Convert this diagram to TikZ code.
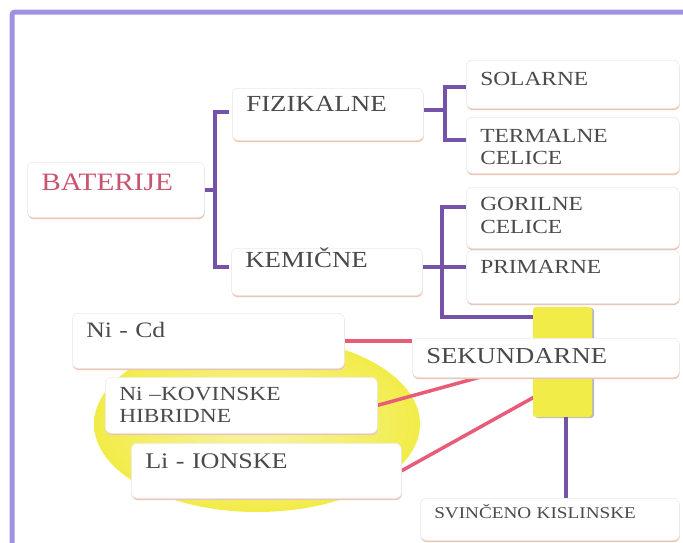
\documentclass[tikz,border=0pt]{standalone}
\usepackage{fontspec}
\setmainfont{Liberation Serif}[FakeStretch=1.17]
\usetikzlibrary{shadows,calc}
\definecolor{frameC}{HTML}{A092E2}
\definecolor{brC}{HTML}{7453A8}
\definecolor{redC}{HTML}{E85C7A}
\definecolor{yelC}{HTML}{F2EC48}
\definecolor{yelL}{HTML}{F8F4A8}
\definecolor{txtC}{HTML}{4A4A4A}
\definecolor{batC}{HTML}{C9546E}
\definecolor{shC}{HTML}{EBC6B4}
\pgfdeclarelayer{bg}
\pgfsetlayers{bg,main}
\tikzset{
  box/.style={rectangle, rounded corners=6pt, fill=white, draw=black!8, line width=0.6pt,
    anchor=north west, inner xsep=14pt, inner ysep=0pt, align=left, text=txtC,
    drop shadow={shadow xshift=0.4pt, shadow yshift=-1.8pt, fill=shC, opacity=1}},
  brk/.style={draw=brC, line width=4.5pt},
  redl/.style={draw=redC, line width=3.5pt},
  framel/.style={draw=frameC, line width=5pt, rounded corners=3pt},
  barbox/.style={rectangle, fill=yelC, rounded corners=3pt, minimum width=59pt, minimum height=110pt,
    inner sep=0pt, drop shadow={shadow xshift=2pt, shadow yshift=-1pt, fill=black!45, opacity=0.6}},
}
% name, x1, y1, x2, y2, baseline, font, text
\newcommand\mybox[8]{%
  \pgfmathsetmacro\bw{#4-#2-28}%
  \pgfmathsetmacro\bh{#6-#3}%
  \pgfmathsetmacro\bd{#5-#6}%
  \node[box, font=#7, text width=\bw pt, text height=\bh pt, text depth=\bd pt] (#1) at (#2,#3) {#8};}
\begin{document}
\begin{tikzpicture}[x=1pt,y=-1pt]
\useasboundingbox (0,0) rectangle (683,542);

% boxes
\mybox{bat}{27}{162}{204}{217}{190}{\fontsize{25}{27}\selectfont}{\textcolor{batC}{BATERIJE}}
\mybox{fiz}{232}{88}{423}{140}{111}{\fontsize{23}{25}\selectfont}{FIZIKALNE}
\mybox{kem}{231}{248}{422}{295}{267}{\fontsize{23}{25}\selectfont}{KEMIČNE}
\mybox{sol}{466}{60}{679}{108}{85}{\fontsize{20}{22.5}\selectfont}{SOLARNE}
\mybox{ter}{466}{117}{679}{173}{142}{\fontsize{20}{22.5}\selectfont}{TERMALNE\\CELICE}
\mybox{gor}{466}{187}{679}{248}{210}{\fontsize{20}{23}\selectfont}{GORILNE\\CELICE}
\mybox{pri}{466}{250}{679}{303}{273}{\fontsize{20}{22.5}\selectfont}{PRIMARNE}
\mybox{ncd}{72}{313}{344}{368}{337}{\fontsize{22}{24}\selectfont}{Ni - Cd}
\mybox{nkh}{105}{377}{377}{433}{400}{\fontsize{20}{22}\selectfont}{Ni –KOVINSKE\\HIBRIDNE}
\mybox{li}{131}{443}{401}{498}{468}{\fontsize{22.3}{24}\selectfont}{Li - IONSKE}
\mybox{sek}{412}{338}{679}{377}{363}{\fontsize{22.8}{24}\selectfont}{SEKUNDARNE}
\mybox{svi}{420}{498}{679}{540}{518}{\fontsize{16.4}{18}\selectfont}{SVINČENO KISLINSKE}

\begin{pgfonlayer}{bg}
  \fill[white] (0,0) rectangle (683,542);
  % frame
  \draw[framel] (12,545) -- (12,12) -- (686,12);
  % yellow disc
  \shade[inner color=yelL, outer color=yelC] (257,424) ellipse [x radius=163, y radius=88];
  % bracket 1
  \coordinate (b1) at (215,190);
  \draw[brk] (bat.east |- b1) -- (b1);
  \draw[brk] (229,112) -- (215,112) -- (215,267) -- (229,267);
  % bracket 2
  \coordinate (b2) at (445,110);
  \draw[brk] (fiz.east |- b2) -- (b2);
  \draw[brk] (sol.west |- 0,87) -- (445,87) -- (445,140) -- (ter.west |- 0,140);
  % bracket 3
  \coordinate (b3) at (442,267);
  \draw[brk] (kem.east |- b3) -- (pri.west |- b3);
  \draw[brk] (gor.west |- 0,207) -- (442,207) -- (442,317) -- (540,317);
  % red connectors
  \coordinate (c2) at (495,373);
  \coordinate (c3) at (536,396);
  \draw[redl] (ncd.east) -- (ncd.east -| sek.west);
  \draw[redl] (nkh.east) -- (c2);
  \draw[redl] (li.east) -- (c3);
  % bar and lower purple line
  \node[barbox] (bar) at (562.5,362) {};
  \draw[brk, line width=4pt] (bar.south -| 566,0) -- (svi.north -| 566,0);
\end{pgfonlayer}
\end{tikzpicture}
\end{document}
